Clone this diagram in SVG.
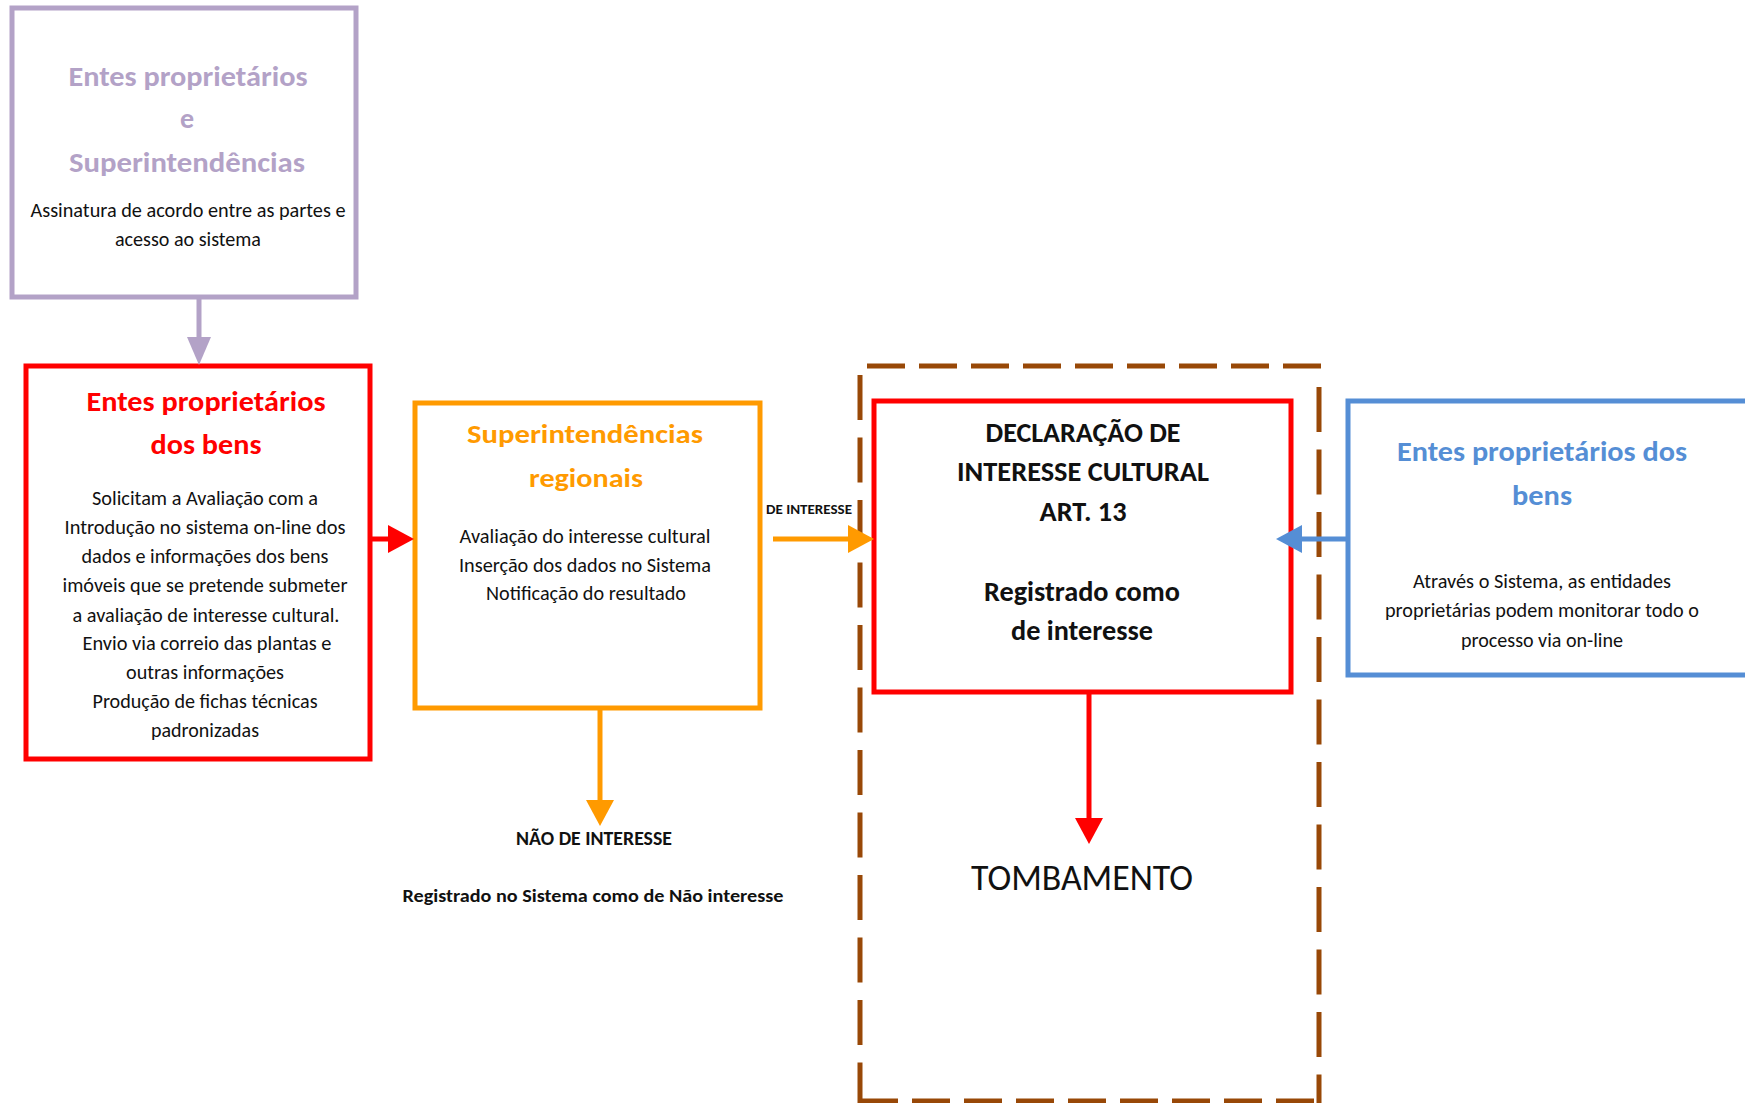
<svg xmlns="http://www.w3.org/2000/svg" width="1745" height="1103" viewBox="0 0 1745 1103">
  <style>
    text { font-family: Carlito, Lato, "Liberation Sans", sans-serif; text-anchor: middle; }
    .title { font-weight: 700; }
    .body { font-size: 20px; fill: #111111; }
    .box { fill: #ffffff; stroke-width: 5; }
    .conn { fill: none; stroke-width: 5; }
    .frame { fill: none; stroke: #984807; stroke-width: 5; }
  </style>
  <defs>
    <marker id="headPurple" viewBox="0 -13 28 26" refX="0" refY="0" markerWidth="28" markerHeight="26" markerUnits="userSpaceOnUse" orient="auto">
      <path d="M0,-12 L28,0 L0,12 Z" fill="#B3A2C7"/>
    </marker>
    <marker id="headRed" viewBox="0 -14 26 28" refX="0" refY="0" markerWidth="26" markerHeight="28" markerUnits="userSpaceOnUse" orient="auto">
      <path d="M0,-14 L26,0 L0,14 Z" fill="#FF0000"/>
    </marker>
    <marker id="headOrange" viewBox="0 -14 26 28" refX="0" refY="0" markerWidth="26" markerHeight="28" markerUnits="userSpaceOnUse" orient="auto">
      <path d="M0,-14 L26,0 L0,14 Z" fill="#FF9A00"/>
    </marker>
    <marker id="headBlue" viewBox="0 -14 26 28" refX="0" refY="0" markerWidth="26" markerHeight="28" markerUnits="userSpaceOnUse" orient="auto">
      <path d="M0,-14 L26,0 L0,14 Z" fill="#558ED5"/>
    </marker>
  </defs>

  <rect width="1745" height="1103" fill="#ffffff"/>

  <!-- dashed frame around the declaration stage -->
  <g id="frame-declaracao">
    <line class="frame" x1="867" y1="366" x2="1321" y2="366" stroke-dasharray="38 14"/>
    <line class="frame" x1="860" y1="375" x2="860" y2="1103" stroke-dasharray="45 17.5"/>
    <line class="frame" x1="1319" y1="387" x2="1319" y2="1103" stroke-dasharray="45 17.5"/>
    <line class="frame" x1="860" y1="1101" x2="1321" y2="1101" stroke-dasharray="38 14"/>
  </g>

  <!-- node: agreement between owners and superintendencies -->
  <g id="node-acordo">
    <rect class="box" x="12" y="8" width="344" height="289" stroke="#B3A2C7"/>
    <g class="title" font-size="28" fill="#B3A2C7">
      <text x="188" y="86" textLength="239" lengthAdjust="spacingAndGlyphs">Entes proprietários</text>
      <text x="187" y="128">e</text>
      <text x="187" y="172" textLength="236" lengthAdjust="spacingAndGlyphs">Superintendências</text>
    </g>
    <g class="body">
      <text x="188" y="217" textLength="315" lengthAdjust="spacingAndGlyphs">Assinatura de acordo entre as partes e</text>
      <text x="188" y="246" textLength="146" lengthAdjust="spacingAndGlyphs">acesso ao sistema</text>
    </g>
  </g>

  <!-- node: owners submit the request -->
  <g id="node-entes">
    <rect class="box" x="26" y="366" width="344" height="393" stroke="#FF0000"/>
    <g class="title" font-size="29" fill="#FF0000">
      <text x="206" y="411" textLength="239" lengthAdjust="spacingAndGlyphs">Entes proprietários</text>
      <text x="206" y="454" textLength="111" lengthAdjust="spacingAndGlyphs">dos bens</text>
    </g>
    <g class="body">
      <text x="205" y="505" textLength="226" lengthAdjust="spacingAndGlyphs">Solicitam a Avaliação com a</text>
      <text x="205" y="534" textLength="281" lengthAdjust="spacingAndGlyphs">Introdução no sistema on-line dos</text>
      <text x="205" y="563" textLength="247" lengthAdjust="spacingAndGlyphs">dados e informações dos bens</text>
      <text x="205" y="592" textLength="285" lengthAdjust="spacingAndGlyphs">imóveis que se pretende submeter</text>
      <text x="206" y="622" textLength="267" lengthAdjust="spacingAndGlyphs">a avaliação de interesse cultural.</text>
      <text x="207" y="650" textLength="249" lengthAdjust="spacingAndGlyphs">Envio via correio das plantas e</text>
      <text x="205" y="679" textLength="158" lengthAdjust="spacingAndGlyphs">outras informações</text>
      <text x="205" y="708" textLength="225" lengthAdjust="spacingAndGlyphs">Produção de fichas técnicas</text>
      <text x="205" y="737" textLength="108" lengthAdjust="spacingAndGlyphs">padronizadas</text>
    </g>
  </g>

  <!-- node: regional superintendencies evaluate -->
  <g id="node-superintendencias">
    <rect class="box" x="415" y="403" width="345" height="305" stroke="#FF9A00" stroke-width="6"/>
    <g class="title" font-size="27" fill="#FF9A00">
      <text x="585" y="443" textLength="236" lengthAdjust="spacingAndGlyphs">Superintendências</text>
      <text x="586" y="487" textLength="114" lengthAdjust="spacingAndGlyphs">regionais</text>
    </g>
    <g class="body" font-size="21">
      <text x="585" y="543" textLength="251" lengthAdjust="spacingAndGlyphs">Avaliação do interesse cultural</text>
      <text x="585" y="572" textLength="252" lengthAdjust="spacingAndGlyphs">Inserção dos dados no Sistema</text>
      <text x="586" y="600" textLength="200" lengthAdjust="spacingAndGlyphs">Notificação do resultado</text>
    </g>
  </g>

  <!-- outcome: not of interest -->
  <g id="node-nao-interesse">
    <text x="594" y="845" class="title" font-size="21" fill="#111111" textLength="156" lengthAdjust="spacingAndGlyphs">NÃO DE INTERESSE</text>
    <text x="593" y="902" class="title" font-size="19" fill="#111111" textLength="381" lengthAdjust="spacingAndGlyphs">Registrado no Sistema como de Não interesse</text>
  </g>

  <!-- node: declaration of cultural interest -->
  <g id="node-declaracao">
    <rect class="box" x="874" y="401" width="417" height="291" stroke="#FF0000"/>
    <g class="title" font-size="28" fill="#111111">
      <text x="1083" y="442" textLength="195" lengthAdjust="spacingAndGlyphs">DECLARAÇÃO DE</text>
      <text x="1083" y="481" textLength="252" lengthAdjust="spacingAndGlyphs">INTERESSE CULTURAL</text>
      <text x="1083" y="521" textLength="87" lengthAdjust="spacingAndGlyphs">ART. 13</text>
      <text x="1082" y="601" textLength="196" lengthAdjust="spacingAndGlyphs">Registrado como</text>
      <text x="1082" y="640" textLength="142" lengthAdjust="spacingAndGlyphs">de interesse</text>
    </g>
  </g>

  <!-- outcome: listing -->
  <g id="node-tombamento">
    <text x="1082" y="890" font-size="37" fill="#111111" textLength="222" lengthAdjust="spacingAndGlyphs">TOMBAMENTO</text>
  </g>

  <!-- node: owners follow the process online -->
  <g id="node-monitoramento">
    <rect class="box" x="1348" y="401" width="420" height="274" stroke="#558ED5"/>
    <g class="title" font-size="29" fill="#558ED5">
      <text x="1542" y="461" textLength="290" lengthAdjust="spacingAndGlyphs">Entes proprietários dos</text>
      <text x="1542" y="505" textLength="60" lengthAdjust="spacingAndGlyphs">bens</text>
    </g>
    <g class="body" font-size="19">
      <text x="1542" y="588" textLength="258" lengthAdjust="spacingAndGlyphs">Através o Sistema, as entidades</text>
      <text x="1542" y="617" textLength="314" lengthAdjust="spacingAndGlyphs">proprietárias podem monitorar todo o</text>
      <text x="1542" y="647" textLength="162" lengthAdjust="spacingAndGlyphs">processo via on-line</text>
    </g>
  </g>

  <!-- connectors, drawn over the boxes so arrowheads overlap borders -->
  <g id="connectors">
    <line class="conn" x1="199" y1="297" x2="199" y2="337" stroke="#B3A2C7" marker-end="url(#headPurple)"/>
    <line class="conn" x1="370" y1="539" x2="388" y2="539" stroke="#FF0000" marker-end="url(#headRed)"/>
    <line class="conn" x1="773" y1="539" x2="848" y2="539" stroke="#FF9A00" marker-end="url(#headOrange)"/>
    <line class="conn" x1="1346" y1="539" x2="1302" y2="539" stroke="#558ED5" marker-end="url(#headBlue)"/>
    <line class="conn" x1="600" y1="710" x2="600" y2="800" stroke="#FF9A00" marker-end="url(#headOrange)"/>
    <line class="conn" x1="1089" y1="694" x2="1089" y2="818" stroke="#FF0000" marker-end="url(#headRed)"/>
    <text x="809" y="514" class="title" font-size="14" fill="#111111" textLength="86" lengthAdjust="spacingAndGlyphs">DE INTERESSE</text>
  </g>
</svg>
